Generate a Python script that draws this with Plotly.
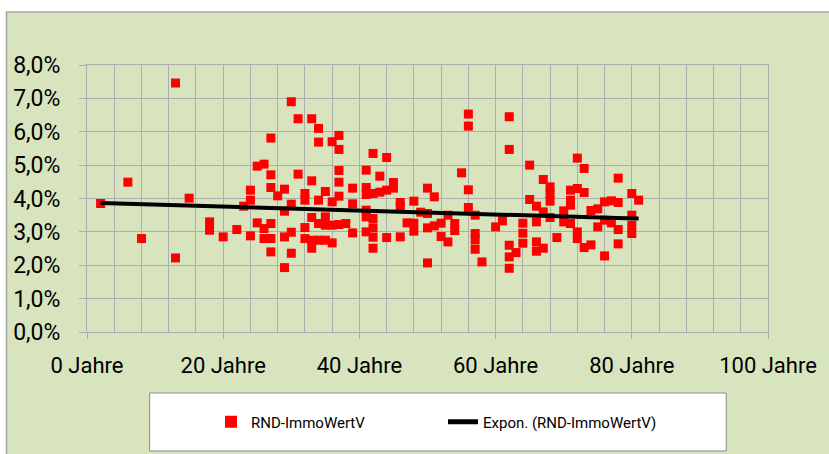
import numpy as np
import plotly.graph_objects as go

# ---- data ----
ages = [2, 6, 8, 13, 13, 15, 18, 18, 20, 22, 23,
        24, 24, 24, 25, 25, 26, 26, 26,
        27, 27, 27, 27, 27, 27, 28,
        29, 29, 29, 29, 30, 30, 30, 30, 31, 31,
        32, 32, 32, 32, 33, 33, 33, 33, 33,
        34, 34, 34, 34, 34, 35, 35, 35, 35, 36, 36, 36, 36,
        37, 37, 37, 37, 37, 37, 38, 39, 39, 39,
        41, 41, 41, 41, 41, 41, 42, 42, 42, 42, 42, 42,
        43, 43, 44, 44, 44, 45, 45, 46, 46, 46, 47, 48, 48, 48, 49,
        50, 50, 50, 50, 51, 51, 52, 52, 53, 53, 54, 54, 55,
        56, 56, 56, 56, 57, 57, 57, 57, 58, 60, 61,
        62, 62, 62, 62, 62, 63, 64, 64, 64, 65, 65,
        66, 66, 66, 66, 67, 67, 67, 68, 68, 68, 68, 69, 70, 70,
        71, 71, 71, 71, 72, 72, 72, 72, 73, 73, 73, 74, 74, 75, 75,
        76, 76, 76, 77, 77, 78, 78, 78, 78, 80, 80, 80, 80, 81]
rates = [3.85, 4.49, 2.80, 7.46, 2.22, 4.01, 3.30, 3.05, 2.85, 3.07, 3.77,
         4.25, 3.95, 2.88, 4.97, 3.27, 5.03, 3.10, 2.80,
         5.81, 4.71, 4.33, 3.25, 2.80, 2.40, 4.08,
         4.28, 3.62, 2.85, 1.93, 6.90, 3.83, 2.99, 2.36, 6.39, 4.73,
         4.15, 3.95, 3.13, 2.80, 6.39, 4.53, 3.43, 2.75, 2.51,
         6.10, 5.69, 3.95, 3.25, 2.75, 4.21, 3.45, 3.20, 2.75, 5.70, 3.90, 3.20, 2.67,
         5.89, 5.47, 4.84, 4.49, 4.07, 3.22, 3.25, 4.31, 3.84, 2.97,
         4.85, 4.33, 4.12, 3.65, 3.45, 3.00, 5.35, 4.15, 3.40, 3.12, 2.84, 2.51,
         4.67, 4.19, 5.23, 4.25, 2.83, 4.48, 4.31, 3.88, 3.75, 2.85, 3.27, 3.92, 3.26, 3.02, 3.59,
         4.31, 3.55, 3.12, 2.07, 4.05, 3.18, 3.26, 2.86, 3.50, 2.70, 3.25, 3.04, 4.77,
         6.53, 6.17, 4.26, 3.73, 3.50, 2.95, 2.76, 2.48, 2.10, 3.15, 3.33,
         6.45, 5.47, 2.60, 2.25, 1.91, 2.38, 3.26, 2.96, 2.66, 5.00, 3.97,
         3.77, 3.30, 2.70, 2.42, 4.57, 3.60, 2.51, 4.35, 4.15, 3.92, 3.43, 2.83, 3.63, 3.30,
         4.25, 3.95, 3.80, 3.25, 5.21, 4.30, 3.00, 2.80, 4.90, 4.18, 2.53, 3.64, 2.61, 3.69, 3.15,
         3.90, 3.35, 2.28, 3.93, 3.27, 4.61, 3.88, 3.07, 2.64, 4.15, 3.50, 3.20, 2.95, 3.95]

x_ticks = [0, 20, 40, 60, 80, 100]
y_ticks = [0, 1, 2, 3, 4, 5, 6, 7, 8]
series_name = "RND-ImmoWertV"
trend_name = "Expon. (RND-ImmoWertV)"

# exponential trendline (least squares on log values, like Excel)
xa = np.array(ages, dtype=float)
ya = np.array(rates, dtype=float)
b, ln_a = np.polyfit(xa, np.log(ya), 1)
tx = np.linspace(xa.min(), xa.max(), 50)
ty = np.exp(ln_a) * np.exp(b * tx)

FONT = "Roboto, 'Liberation Sans Narrow', 'DejaVu Sans Condensed', sans-serif"
GREEN = "#D7E4BD"
GRID = "#ADADAD"

fig = go.Figure()
fig.add_trace(go.Scatter(
    x=ages, y=rates, mode="markers", name=series_name,
    marker=dict(symbol="square", size=9, color="#FF0000", line=dict(width=0)),
))
fig.add_trace(go.Scatter(
    x=tx, y=ty, mode="lines", name=trend_name,
    line=dict(color="#000000", width=4),
))

# plot area is 87..772 px horizontally, 65..332 px vertically
W, H = 829, 454
L, R, T, B = 87, 772, 65, 332
pw, ph = R - L, B - T

def px_x(p):
    return (p - L) / pw

def px_y(p):
    return (B - p) / ph

shapes = [
    # green chart area with grey border
    dict(type="rect", xref="paper", yref="paper", layer="below",
         x0=px_x(6), x1=px_x(840), y0=px_y(470), y1=px_y(12),
         fillcolor=GREEN, line=dict(color="#A6A6A6", width=1.5)),
    # legend box
    dict(type="rect", xref="paper", yref="paper", layer="above",
         x0=px_x(150), x1=px_x(730), y0=px_y(451), y1=px_y(393),
         fillcolor="#FFFFFF", line=dict(color="#8C8C8C", width=1)),
]

fig.update_layout(
    width=W, height=H,
    margin=dict(l=L, r=W - R, t=T, b=H - B),
    paper_bgcolor="#FFFFFF",
    plot_bgcolor="#FFFFFF",
    font=dict(family=FONT, color="#000000"),
    shapes=shapes,
    showlegend=True,
    legend=dict(
        orientation="h",
        xref="container", yref="container",
        x=211 / W, xanchor="left",
        y=1 - 422 / H, yanchor="middle",
        bgcolor="rgba(0,0,0,0)", borderwidth=0,
        font=dict(family=FONT, size=15, color="#000000"),
        entrywidth=187, entrywidthmode="pixels",
        itemsizing="constant",
    ),
    xaxis=dict(
        range=[0, 100],
        tickmode="array", tickvals=x_ticks,
        ticktext=[f"{v} Jahre" for v in x_ticks],
        ticks="outside", ticklen=6, tickcolor=GRID, tickwidth=1,
        tickfont=dict(family=FONT, size=22, color="#000000"),
        showgrid=True, gridcolor=GRID, gridwidth=1,
        minor=dict(dtick=4, showgrid=True, gridcolor=GRID, gridwidth=1, ticks=""),
        showline=True, linecolor=GRID, linewidth=1, mirror=True,
        zeroline=False, fixedrange=True,
        ticklabelstandoff=8,
    ),
    yaxis=dict(
        range=[0, 8],
        tickmode="array", tickvals=y_ticks,
        ticktext=[f"{v},0%" for v in y_ticks],
        ticks="outside", ticklen=7, tickcolor=GRID, tickwidth=1,
        tickfont=dict(family=FONT, size=23, color="#000000"),
        showgrid=True, gridcolor=GRID, gridwidth=1,
        showline=True, linecolor=GRID, linewidth=1, mirror=True,
        zeroline=False, fixedrange=True,
        ticklabelstandoff=14,
    ),
)

fig.write_html("out.html", config={"displayModeBar": False},
               post_script="document.body.style.margin='0';")
